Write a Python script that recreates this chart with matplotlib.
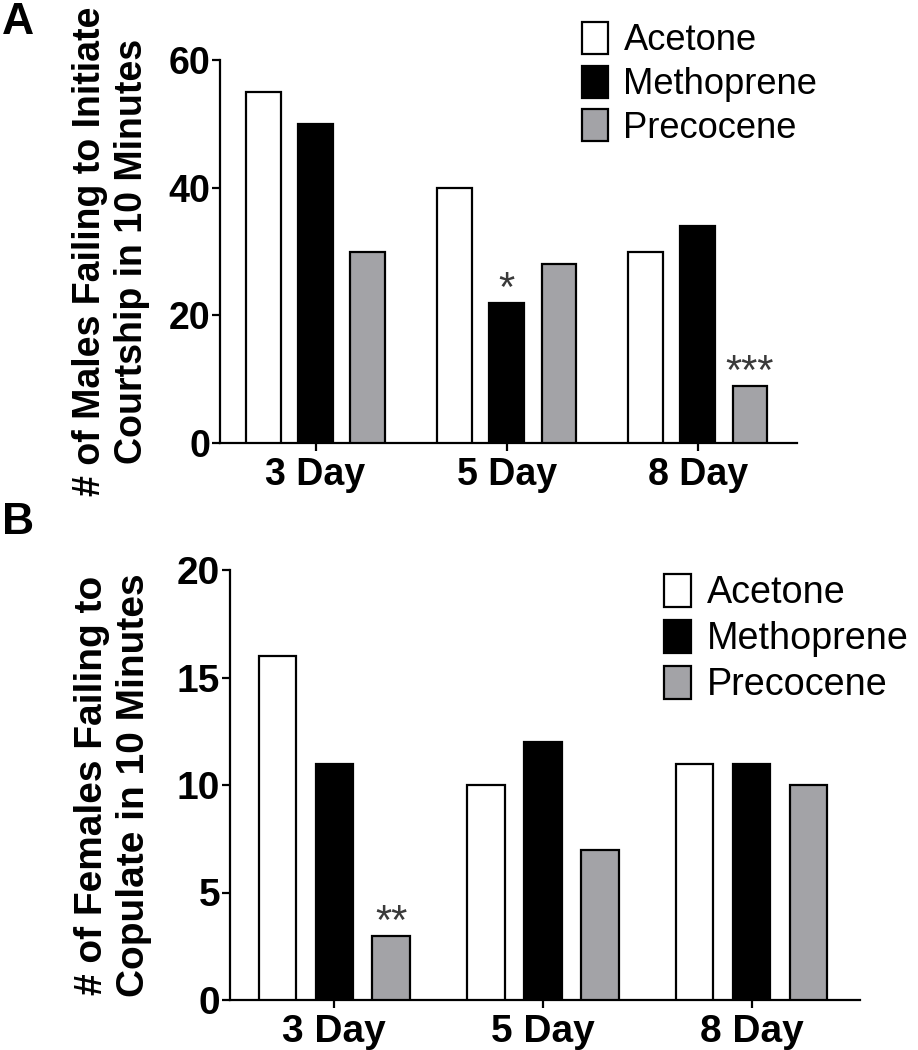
import numpy as np
import matplotlib.pyplot as plt

plt.rcParams['font.family'] = ['Liberation Sans', 'DejaVu Sans']

days = ['3 Day', '5 Day', '8 Day']
treatments = ['Acetone', 'Methoprene', 'Precocene']
colors = ['white', 'black', '#a3a3a7']

# panel A: males failing to initiate courtship
males_acetone = [55, 40, 30]
males_methoprene = [50, 22, 34]
males_precocene = [30, 28, 9]
# panel B: females failing to copulate
females_acetone = [16, 10, 11]
females_methoprene = [11, 12, 11]
females_precocene = [3, 7, 10]

# significance marks: (group, treatment index, label)
males_sig = [(1, 1, '*'), (2, 2, '***')]
females_sig = [(0, 2, '**')]

fig = plt.figure(figsize=(9.18, 10.5), dpi=100)
axA = fig.add_axes([220/918, 1-443/1050, 577/918, 383/1050])
axB = fig.add_axes([230/918, 1-1000/1050, 630/918, 430/1050])

x = np.arange(len(days))
pitch = 0.273
width = 0.18


def draw(ax, series, sig, ymax, yticks, fs, ylabel, lab_x, leg_anchor, lspace):
    for i, vals in enumerate(series):
        ax.bar(x + (i-1)*pitch, vals, width, color=colors[i], edgecolor='black',
               linewidth=1.6, label=treatments[i], zorder=3)
    for g, t, s in sig:
        ax.annotate(s, (x[g] + (t-1)*pitch, series[t][g]), xytext=(0, 1),
                    textcoords='offset points', ha='center', va='baseline',
                    fontsize=30, color='#3a3a3a')
    ax.set_xlim(-0.5, 2.52)
    ax.set_ylim(0, ymax)
    ax.set_yticks(yticks)
    ax.set_xticks(x)
    ax.set_xticklabels(days, fontsize=fs, fontweight='bold')
    ax.set_yticklabels([str(v) for v in yticks], fontsize=fs, fontweight='bold')
    for sp in ['top', 'right']:
        ax.spines[sp].set_visible(False)
    for sp in ['left', 'bottom']:
        ax.spines[sp].set_linewidth(1.6)
    ax.tick_params(axis='y', length=6, width=1.6, pad=1)
    ax.tick_params(axis='x', length=6, width=1.6, pad=4)
    ax.set_ylabel(ylabel, fontsize=fs, fontweight='bold', linespacing=1.2)
    ax.yaxis.set_label_coords(lab_x, 0.5)
    fig.legend(handles=ax.containers, labels=treatments, loc='upper left',
               bbox_to_anchor=leg_anchor, frameon=False, fontsize=fs*0.97,
               borderpad=0, borderaxespad=0, handlelength=0.72, handleheight=0.97,
               handletextpad=0.42, labelspacing=lspace)


draw(axA, [males_acetone, males_methoprene, males_precocene], males_sig, 60,
     [0, 20, 40, 60], 27,
     '# of Males Failing to Initiate\nCourtship in 10 Minutes', -0.122,
     (582/918, 1-22/1050), 0.2)
draw(axB, [females_acetone, females_methoprene, females_precocene], females_sig, 20,
     [0, 5, 10, 15, 20], 28,
     '# of Females Failing to\nCopulate in 10 Minutes', -0.124,
     (664/918, 1-574/1050), 0.22)

fig.text(2/918, 1-22/1050, 'A', fontsize=32, fontweight='bold', va='center')
fig.text(2/918, 1-522/1050, 'B', fontsize=32, fontweight='bold', va='center')

fig.savefig('out.png', dpi=100)
